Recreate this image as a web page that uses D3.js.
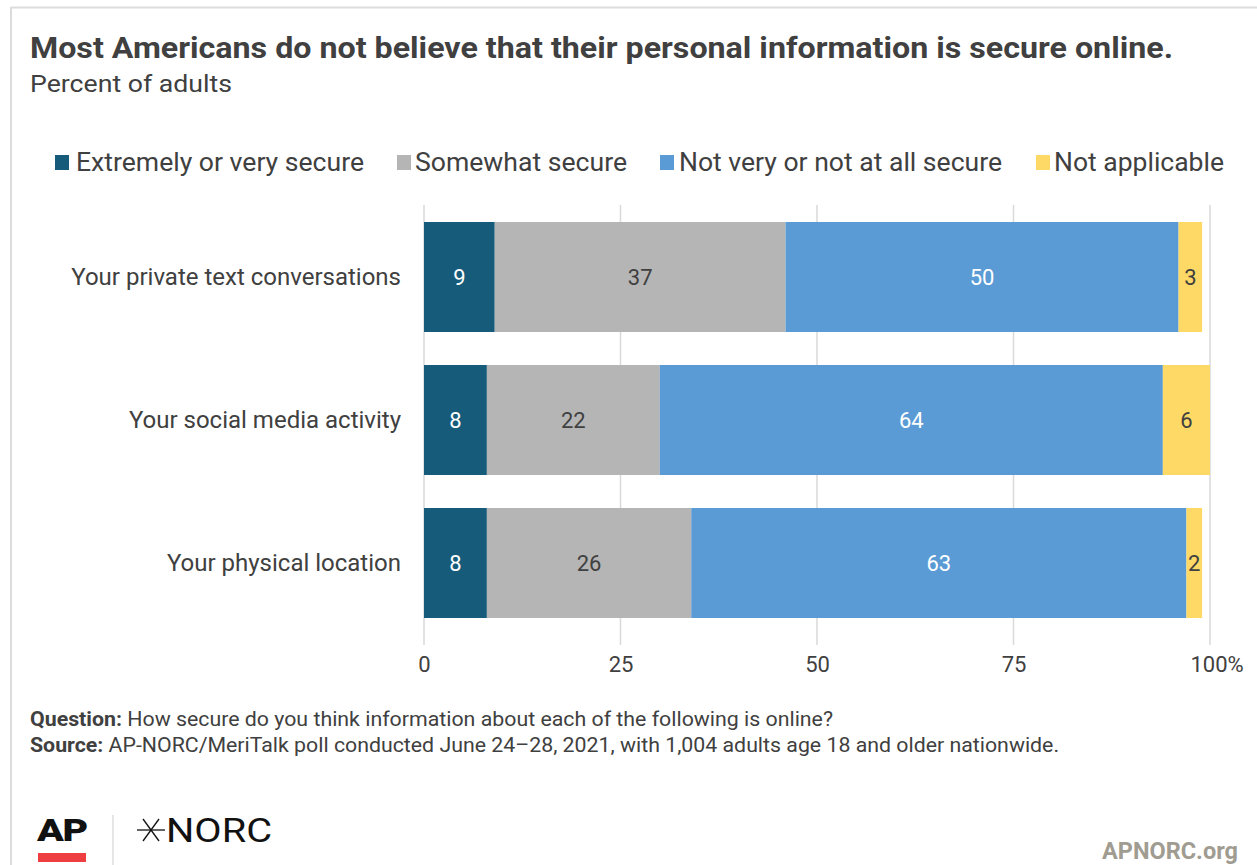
<!DOCTYPE html>
<html>
<head>
<meta charset="utf-8">
<script src="https://cdn.jsdelivr.net/npm/d3@7"></script>
<style>
  html, body { margin: 0; padding: 0; background: #fff; }
  svg { display: block; font-family: Roboto, "Noto Sans", sans-serif; }
</style>
</head>
<body>
<svg id="chart" width="1257" height="865"></svg>
<script>
// Survey items (rows) and response categories (stacked segments)
const categories = ["Your private text conversations", "Your social media activity", "Your physical location"];
const seriesNames = ["Extremely or very secure", "Somewhat secure", "Not very or not at all secure", "Not applicable"];
const extremelyOrVery = [9, 8, 8];
const somewhat = [37, 22, 26];
const notVeryOrNotAtAll = [50, 64, 63];
const notApplicable = [3, 6, 2];
const tickValues = [0, 25, 50, 75, 100];
const tickLabels = ["0", "25", "50", "75", "100%"];

const colors = ["#175B7A", "#B5B5B5", "#5B9BD5", "#FFD966"];
const labelColors = ["#ffffff", "#404040", "#ffffff", "#404040"];

const rows = categories.map((c, i) => ({
  category: c,
  [seriesNames[0]]: extremelyOrVery[i],
  [seriesNames[1]]: somewhat[i],
  [seriesNames[2]]: notVeryOrNotAtAll[i],
  [seriesNames[3]]: notApplicable[i]
}));

const svg = d3.select("#chart");

// Outer frame (top and left rules)
svg.append("line").attr("x1", 11).attr("x2", 1257).attr("y1", 7.5).attr("y2", 7.5)
  .attr("stroke", "#DCDCDC").attr("stroke-width", 2);
svg.append("line").attr("x1", 11).attr("x2", 11).attr("y1", 7).attr("y2", 865)
  .attr("stroke", "#DCDCDC").attr("stroke-width", 2);

// Title and subtitle
svg.append("text").attr("x", 30).attr("y", 58)
  .attr("font-size", 30).attr("font-weight", 700).attr("fill", "#404040")
  .attr("textLength", 1143).attr("lengthAdjust", "spacingAndGlyphs")
  .text("Most Americans do not believe that their personal information is secure online.");
svg.append("text").attr("x", 30).attr("y", 92)
  .attr("font-size", 24).attr("fill", "#404040")
  .attr("textLength", 202).attr("lengthAdjust", "spacingAndGlyphs")
  .text("Percent of adults");

// Legend
const legendItems = [
  { sq: 55, tx: 76, w: 288 },
  { sq: 397, tx: 415, w: 212 },
  { sq: 660, tx: 679, w: 323 },
  { sq: 1036, tx: 1054, w: 170 }
];
const legend = svg.append("g");
seriesNames.forEach((name, i) => {
  const it = legendItems[i];
  legend.append("rect").attr("x", it.sq).attr("y", 155).attr("width", 14).attr("height", 15)
    .attr("fill", colors[i]);
  legend.append("text").attr("x", it.tx).attr("y", 171)
    .attr("font-size", 25).attr("fill", "#404040")
    .attr("textLength", it.w).attr("lengthAdjust", "spacingAndGlyphs")
    .text(name);
});

// Scales
const x = d3.scaleLinear().domain([0, 100]).range([424, 1210]);
const y = d3.scaleBand().domain(categories).range([200, 640]).paddingInner(0.2308).paddingOuter(0.1538);

// Gridlines
svg.append("g").selectAll("line").data(tickValues).join("line")
  .attr("x1", d => x(d)).attr("x2", d => x(d))
  .attr("y1", 205).attr("y2", 645)
  .attr("stroke", "#D9D9D9").attr("stroke-width", 1.5);

// Stacked bars
const stack = d3.stack().keys(seriesNames)(rows);
const layers = svg.append("g").selectAll("g").data(stack).join("g")
  .attr("fill", (d, i) => colors[i]);
layers.selectAll("rect").data(d => d).join("rect")
  .attr("x", d => x(d[0]))
  .attr("y", d => y(d.data.category))
  .attr("width", d => x(d[1]) - x(d[0]))
  .attr("height", y.bandwidth());

// Value labels
stack.forEach((layer, i) => {
  svg.append("g").selectAll("text").data(layer).join("text")
    .attr("x", d => (x(d[0]) + x(d[1])) / 2)
    .attr("y", d => y(d.data.category) + y.bandwidth() / 2)
    .attr("dy", "0.35em")
    .attr("text-anchor", "middle")
    .attr("font-size", 22)
    .attr("fill", labelColors[i])
    .text(d => d[1] - d[0]);
});

// Category labels
svg.append("g").selectAll("text").data(categories).join("text")
  .attr("x", 401)
  .attr("y", d => y(d) + y.bandwidth() / 2)
  .attr("dy", "0.35em")
  .attr("text-anchor", "end")
  .attr("font-size", 24)
  .attr("fill", "#404040")
  .text(d => d);

// Bottom axis labels
const axis = d3.axisBottom(x).tickValues(tickValues)
  .tickFormat((d, i) => tickLabels[i]).tickSize(0).tickPadding(0);
const axisG = svg.append("g").attr("transform", "translate(0,656)").call(axis);
axisG.select(".domain").remove();
axisG.selectAll("text")
  .attr("font-size", 22).attr("fill", "#404040").attr("font-family", "Roboto, sans-serif")
  .attr("dy", "0.71em");
axisG.selectAll(".tick").filter(d => d === 100).select("text")
  .attr("text-anchor", "start").attr("x", -20);

// Footnotes
const notes = svg.append("g").attr("font-size", 20).attr("fill", "#404040");
const q = notes.append("text").attr("x", 30).attr("y", 726)
  .attr("textLength", 803).attr("lengthAdjust", "spacingAndGlyphs");
q.append("tspan").attr("font-weight", 700).text("Question:");
q.append("tspan").text(" How secure do you think information about each of the following is online?");
const s = notes.append("text").attr("x", 30).attr("y", 752)
  .attr("textLength", 1029).attr("lengthAdjust", "spacingAndGlyphs");
s.append("tspan").attr("font-weight", 700).text("Source:");
s.append("tspan").text(" AP-NORC/MeriTalk poll conducted June 24\u201328, 2021, with 1,004 adults age 18 and older nationwide.");

// Logos
svg.append("text").attr("x", 37).attr("y", 841)
  .attr("font-size", 31).attr("font-weight", 900).attr("fill", "#111")
  .attr("textLength", 50).attr("lengthAdjust", "spacingAndGlyphs")
  .attr("letter-spacing", -1).text("AP");
svg.append("rect").attr("x", 38).attr("y", 853).attr("width", 48).attr("height", 9).attr("fill", "#EF3E42");
svg.append("line").attr("x1", 113).attr("x2", 113).attr("y1", 815).attr("y2", 865)
  .attr("stroke", "#D5D5D5").attr("stroke-width", 1.2);

// NORC star mark
const star = svg.append("g").attr("transform", "translate(151,830)").attr("stroke", "#111").attr("fill", "none");
[[-14, 0, 14, 0], [-8, -11, 8, 11], [-8, 11, 8, -11]].forEach(l => {
  star.append("line").attr("x1", l[0]).attr("y1", l[1]).attr("x2", l[2]).attr("y2", l[3])
    .attr("stroke-width", 1.3);
});
svg.append("text").attr("x", 166).attr("y", 842)
  .attr("font-size", 33).attr("fill", "#111")
  .attr("textLength", 106).attr("lengthAdjust", "spacingAndGlyphs")
  .text("NORC");

svg.append("text").attr("x", 1238).attr("y", 859).attr("text-anchor", "end")
  .attr("font-size", 23).attr("font-weight", 700).attr("fill", "#A09C91")
  .attr("textLength", 136).attr("lengthAdjust", "spacingAndGlyphs")
  .text("APNORC.org");
</script>
</body>
</html>
